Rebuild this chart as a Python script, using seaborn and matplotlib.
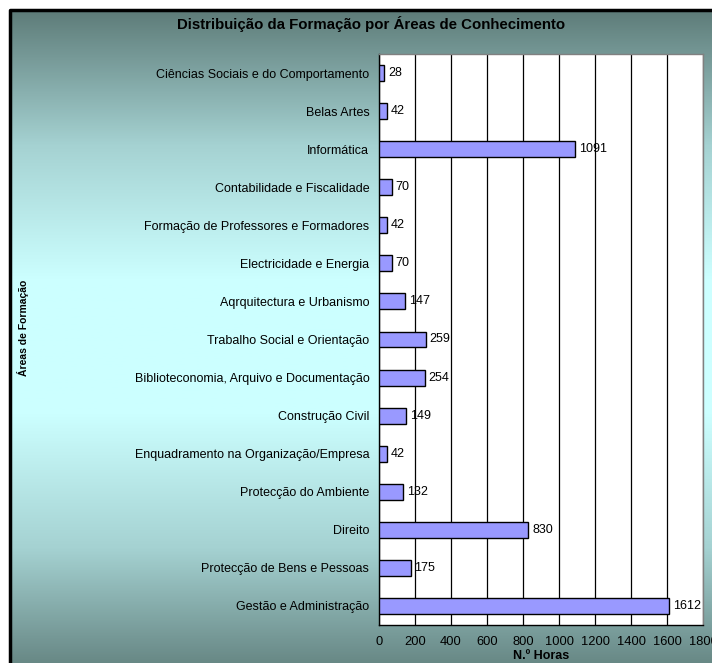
import numpy as np
import pandas as pd
import matplotlib
matplotlib.use("Agg")
import matplotlib.pyplot as plt
import seaborn as sns
from matplotlib.colors import LinearSegmentedColormap

# data, top to bottom
areas = [
    "Ciências Sociais e do Comportamento",
    "Belas Artes",
    "Informática",
    "Contabilidade e Fiscalidade",
    "Formação de Professores e Formadores",
    "Electricidade e Energia",
    "Aqrquitectura e Urbanismo",
    "Trabalho Social e Orientação",
    "Biblioteconomia, Arquivo e Documentação",
    "Construção Civil",
    "Enquadramento na Organização/Empresa",
    "Protecção do Ambiente",
    "Direito",
    "Protecção de Bens e Pessoas",
    "Gestão e Administração",
]
horas = [28, 42, 1091, 70, 42, 70, 147, 259, 254, 149, 42, 132, 830, 175, 1612]
x_ticks = [0, 200, 400, 600, 800, 1000, 1200, 1400, 1600, 1800]

df = pd.DataFrame({"area": areas, "horas": horas})

sns.set_style("white")
plt.rcParams["font.family"] = ["Liberation Sans", "DejaVu Sans"]
plt.rcParams["text.color"] = "black"
plt.rcParams["axes.labelcolor"] = "black"
plt.rcParams["xtick.color"] = "black"
plt.rcParams["ytick.color"] = "black"

W, H = 712, 663
fig = plt.figure(figsize=(W / 100, H / 100), dpi=100)
fig.patch.set_facecolor("white")

# gradient background of the chart frame (dark - light cyan - dark),
# the frame runs past the right and bottom edges of the picture
bg = fig.add_axes([10 / W, -20 / H, 1.05, 1 - 10 / H + 20 / H])
bg.set_axis_off()
cmap = LinearSegmentedColormap.from_list(
    "frame", ["#5e7c79", "#a5d2d2", "#ccffff", "#ccffff", "#a5d2d2", "#5e7c79"])
grad = np.linspace(0, 1, 256).reshape(-1, 1)
bg.imshow(grad, aspect="auto", cmap=cmap, extent=[0, 1, 0, 1], origin="upper")
bg.plot([0, 0, 1], [0, 1, 1], color="black", linewidth=2.5,
        transform=bg.transAxes, clip_on=False)
bg.set_xlim(0, 1)
bg.set_ylim(0, 1)

L, R, T, B = 379, 703, 54, 625
ax = fig.add_axes([L / W, 1 - B / H, (R - L) / W, (B - T) / H])
ax.set_facecolor("white")

sns.barplot(data=df, x="horas", y="area", orient="h", order=areas,
            color="#9999ff", saturation=1, width=0.42,
            edgecolor="black", linewidth=1.0, ax=ax, zorder=3)

ax.set_xlim(0, 1800)
ax.set_ylim(len(areas) - 0.5, -0.5)
ax.set_xticks(x_ticks)
ax.set_xticklabels([str(t) for t in x_ticks], fontsize=9.3)
ax.grid(axis="x", color="black", linewidth=0.9, zorder=0)
ax.set_axisbelow(True)

# category tick marks between bars, like the spreadsheet original
ax.set_yticks(np.arange(len(areas)))
ax.set_yticklabels(areas, fontsize=9.0)
ax.set_yticks(np.arange(-0.5, len(areas), 1.0), minor=True)
ax.tick_params(axis="y", which="major", length=0, pad=7)
ax.tick_params(axis="y", which="minor", length=4, width=1, color="black", direction="out")
ax.tick_params(axis="x", length=4, width=1, color="black", direction="out", pad=4)

for side in ["top", "right"]:
    ax.spines[side].set_color("#808080")
    ax.spines[side].set_linewidth(1.0)
for side in ["left", "bottom"]:
    ax.spines[side].set_color("black")
    ax.spines[side].set_linewidth(1.0)

for i, v in enumerate(horas):
    ax.text(v + 22, i, str(v), va="center", ha="left", fontsize=9, zorder=4)

ax.set_title("Distribuição da Formação por Áreas de Conhecimento",
             fontsize=10.8, fontweight="bold", x=(371 - L) / (R - L),
             y=(B - 32) / (B - T), va="center")
ax.set_xlabel("N.º Horas", fontsize=9, fontweight="bold", va="center")
ax.xaxis.set_label_coords(0.5, (B - 656) / (B - T))
ax.set_ylabel("Áreas de Formação", fontsize=7.5, fontweight="bold", va="center")
ax.yaxis.set_label_coords((23 - L) / (R - L), (B - 328) / (B - T))

fig.savefig("out.png", dpi=100)
